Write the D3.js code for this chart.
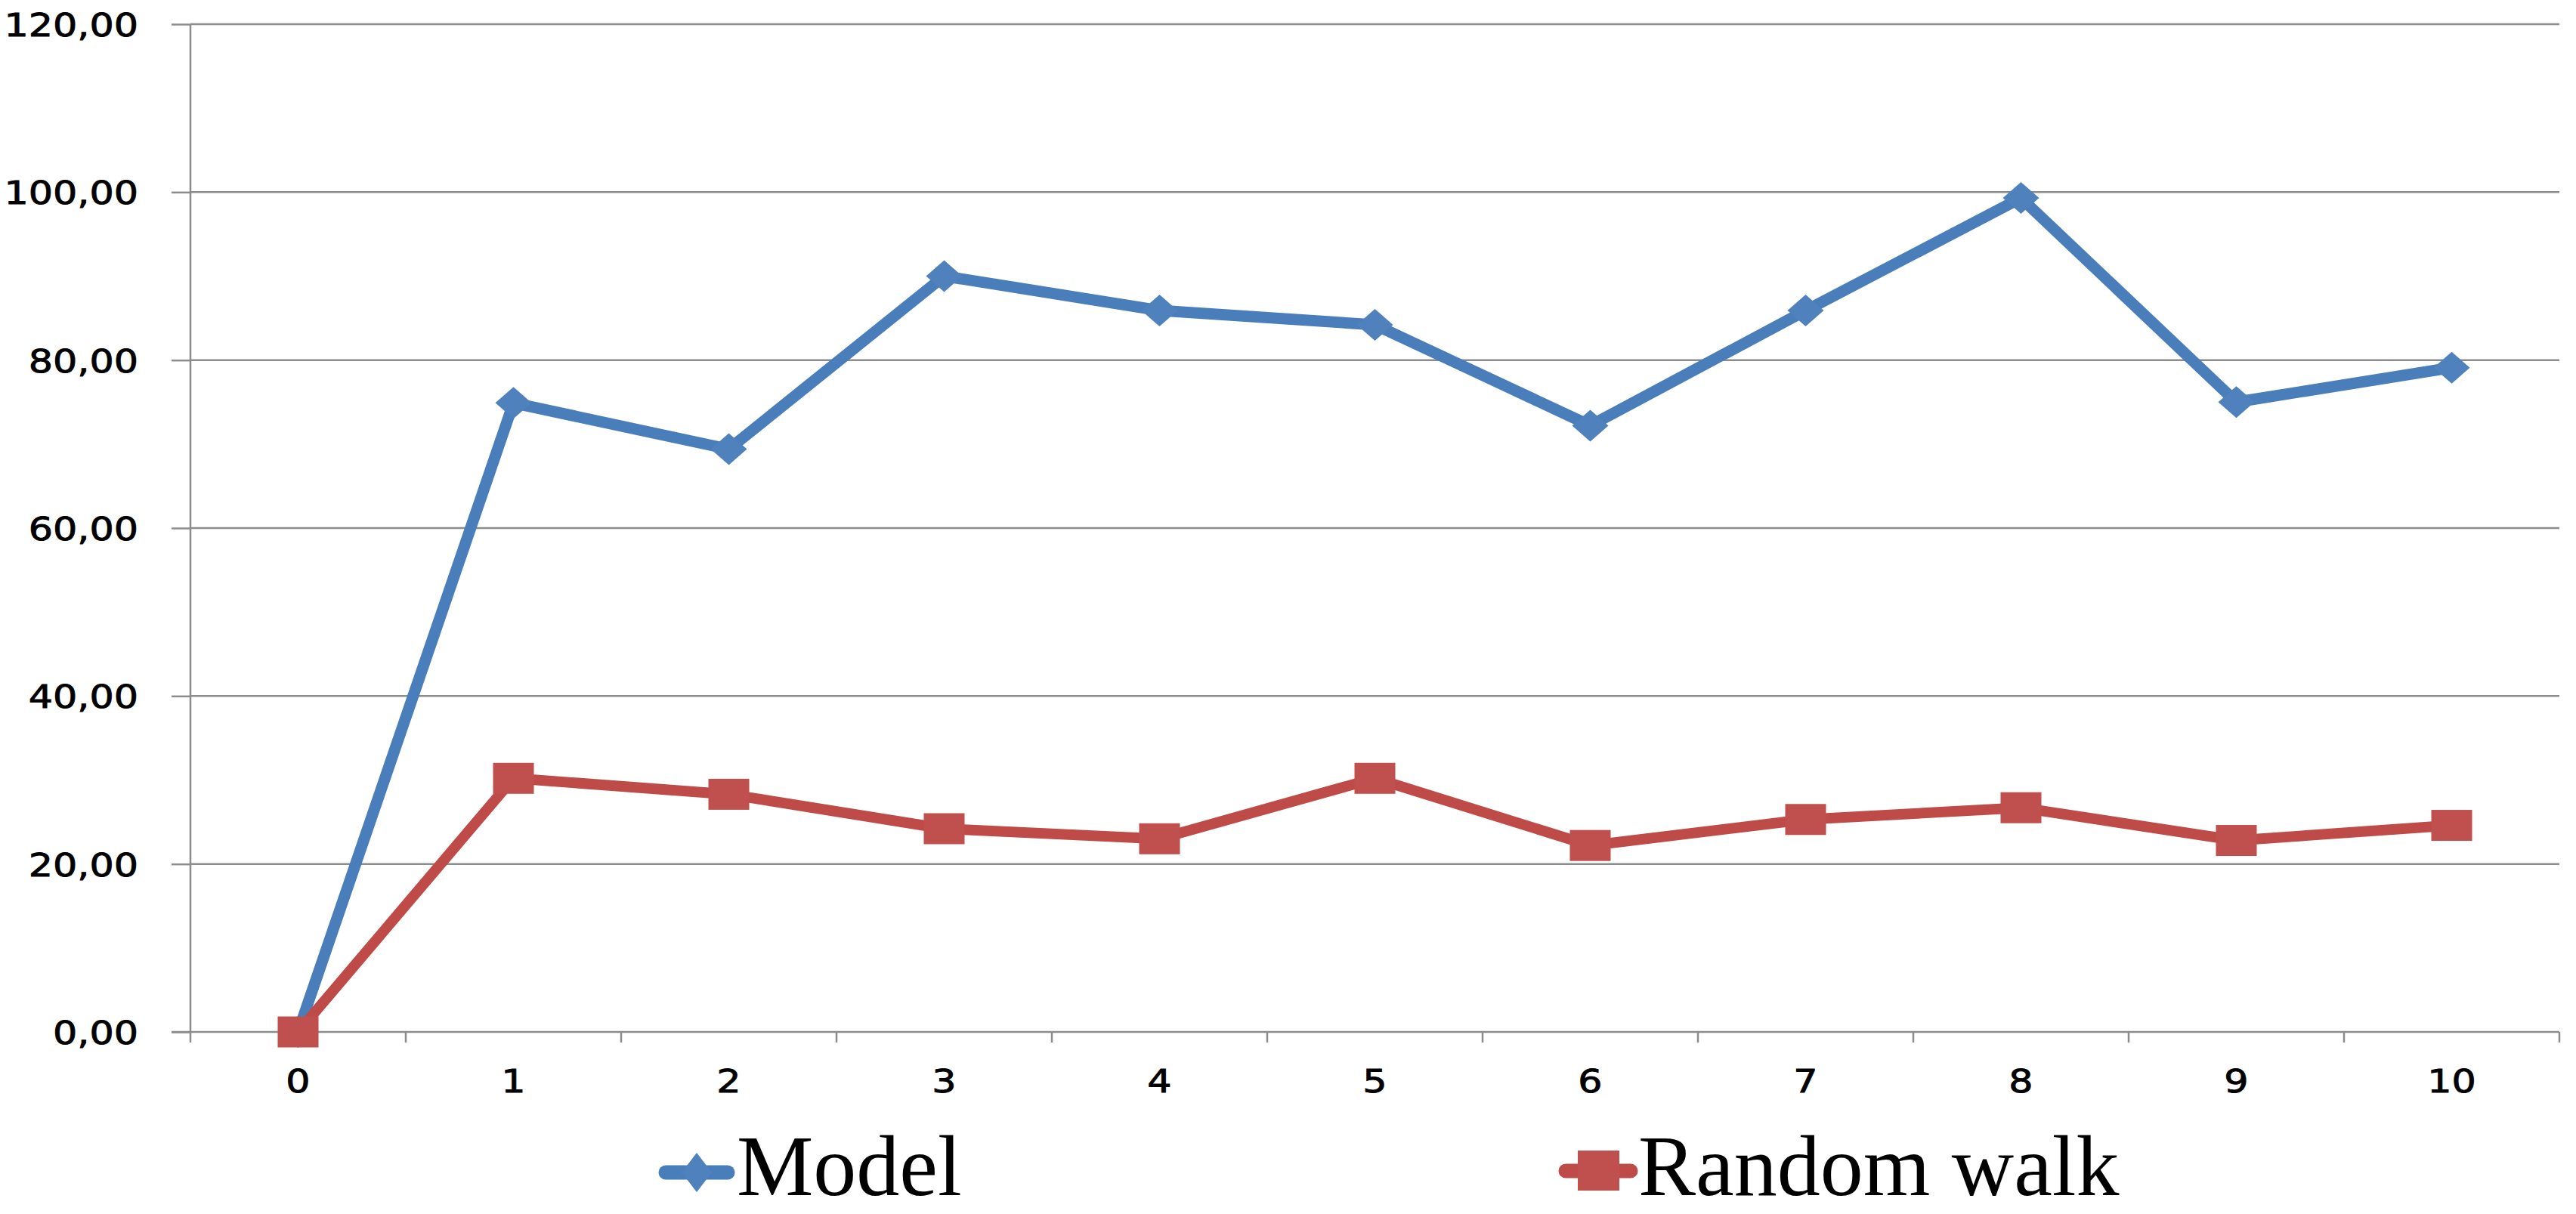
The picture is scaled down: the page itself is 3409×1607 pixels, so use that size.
<!DOCTYPE html>
<html>
<head>
<meta charset="utf-8">
<script src="https://cdn.jsdelivr.net/npm/d3@7"></script>
<style>
  html, body { margin: 0; padding: 0; background: #ffffff; }
  svg { display: block; }
</style>
</head>
<body>
<svg id="chart" width="3409" height="1607"></svg>
<script>
// ---- data ----
const categories = ["0", "1", "2", "3", "4", "5", "6", "7", "8", "9", "10"];
const modelValues = [0, 74.9, 69.4, 90.0, 85.9, 84.2, 72.2, 85.9, 99.3, 75.0, 79.1];
const randomWalkValues = [0, 30.2, 28.3, 24.2, 23.0, 30.2, 22.2, 25.3, 26.7, 22.8, 24.6];
const yTickValues = [0, 20, 40, 60, 80, 100, 120];
const seriesNames = ["Model", "Random walk"];

// ---- layout ----
const W = 3409, H = 1607;
const margin = { left: 252, right: 22, top: 32, bottom: 241 };
const plotL = margin.left, plotR = W - margin.right;
const plotT = margin.top, plotB = H - margin.bottom;

const blueLine = "#4A7EBB", blueMark = "#4F81BD";
const redLine = "#BE4B48", redMark = "#C0504D";
const gridColor = "#8c8c8c";
const sx = 1.18; // horizontal stretch of tick labels

const locale = d3.formatLocale({ decimal: ",", thousands: ".", grouping: [3], currency: ["", ""] });
const fmt = locale.format(".2f");

const svg = d3.select("#chart");

const x = d3.scaleBand().domain(categories).range([plotL, plotR]).padding(0);
const y = d3.scaleLinear().domain([0, 120]).range([plotB, plotT]);
const cx = c => x(c) + x.bandwidth() / 2;

// gridlines
svg.append("g").selectAll("line").data(yTickValues.filter(v => v > 0)).join("line")
  .attr("x1", plotL).attr("x2", plotR)
  .attr("y1", d => y(d)).attr("y2", d => y(d))
  .attr("stroke", gridColor).attr("stroke-width", 2.5);

const labelFont = "'DejaVu Sans', Verdana, sans-serif";

// y axis
const yAxis = svg.append("g").attr("transform", `translate(${plotL},0)`)
  .call(d3.axisLeft(y).tickValues(yTickValues).tickSize(25).tickFormat(fmt));
yAxis.select(".domain").attr("stroke", gridColor).attr("stroke-width", 2.5)
  .attr("d", `M0,${plotT}V${plotB}`);
yAxis.selectAll(".tick line").attr("stroke", gridColor).attr("stroke-width", 2.5);
yAxis.selectAll(".tick text")
  .attr("font-family", labelFont)
  .attr("font-size", 43).attr("fill", "#000")
  .attr("stroke", "#000").attr("stroke-width", 0.9)
  .attr("text-anchor", "end")
  .attr("x", -69 / sx).attr("dy", "0.36em")
  .attr("transform", `scale(${sx},1)`);

// x axis
const xAxis = svg.append("g").attr("transform", `translate(0,${plotB})`)
  .call(d3.axisBottom(x).tickSize(0).tickPadding(0));
xAxis.select(".domain").remove();
xAxis.selectAll(".tick text")
  .attr("font-family", labelFont)
  .attr("font-size", 43).attr("fill", "#000")
  .attr("stroke", "#000").attr("stroke-width", 0.9)
  .attr("y", 80).attr("dy", 0)
  .attr("transform", `scale(${sx},1)`);
svg.append("line").attr("x1", plotL - 25).attr("x2", plotR)
  .attr("y1", plotB).attr("y2", plotB)
  .attr("stroke", gridColor).attr("stroke-width", 2.5);
const bounds = categories.map(c => x(c)).concat([x.range()[1]]);
svg.append("g").selectAll("line").data(bounds).join("line")
  .attr("x1", d => d).attr("x2", d => d)
  .attr("y1", plotB).attr("y2", plotB + 14)
  .attr("stroke", gridColor).attr("stroke-width", 2.5);

// lines
const line = d3.line().x((d, i) => cx(categories[i])).y(d => y(d));
svg.append("path").datum(modelValues).attr("d", line)
  .attr("fill", "none").attr("stroke", blueLine).attr("stroke-width", 15)
  .attr("stroke-linejoin", "round");
svg.append("path").datum(randomWalkValues).attr("d", line)
  .attr("fill", "none").attr("stroke", redLine).attr("stroke-width", 14)
  .attr("stroke-linejoin", "round");

// markers
const dw = 24, dh = 21;
svg.append("g").selectAll("path").data(modelValues).join("path")
  .attr("d", (d, i) => {
    const px = cx(categories[i]), py = y(d);
    return `M${px},${py - dh}L${px + dw},${py}L${px},${py + dh}L${px - dw},${py}Z`;
  })
  .attr("fill", blueMark);
const sw = 54, sh = 41;
svg.append("g").selectAll("rect").data(randomWalkValues).join("rect")
  .attr("x", (d, i) => cx(categories[i]) - sw / 2)
  .attr("y", d => y(d) - sh / 2)
  .attr("width", sw).attr("height", sh)
  .attr("fill", redMark);

// legend
const legend = svg.append("g");
const legendItems = [
  { name: seriesNames[0], x0: 872, x1: 972, yc: 1552, color: blueLine, mark: blueMark, type: "diamond", tx: 975 },
  { name: seriesNames[1], x0: 2063, x1: 2167, yc: 1550, color: redLine, mark: redMark, type: "square", tx: 2168 }
];
legendItems.forEach(it => {
  legend.append("line").attr("x1", it.x0 + 9).attr("x2", it.x1 - 9)
    .attr("y1", it.yc).attr("y2", it.yc)
    .attr("stroke", it.color).attr("stroke-width", 19).attr("stroke-linecap", "round");
  const mx = (it.x0 + it.x1) / 2;
  if (it.type === "diamond") {
    legend.append("path")
      .attr("d", `M${mx},${it.yc - 26}L${mx + 20},${it.yc}L${mx},${it.yc + 26}L${mx - 20},${it.yc}Z`)
      .attr("fill", it.mark);
  } else {
    legend.append("rect").attr("x", mx - 27).attr("y", it.yc - 27)
      .attr("width", 55).attr("height", 53).attr("fill", it.mark);
  }
  legend.append("text").attr("x", it.tx).attr("y", 1582)
    .attr("font-family", "'Liberation Serif', 'Times New Roman', serif")
    .attr("font-size", 114).attr("fill", "#000")
    .text(it.name);
});
</script>
</body>
</html>
